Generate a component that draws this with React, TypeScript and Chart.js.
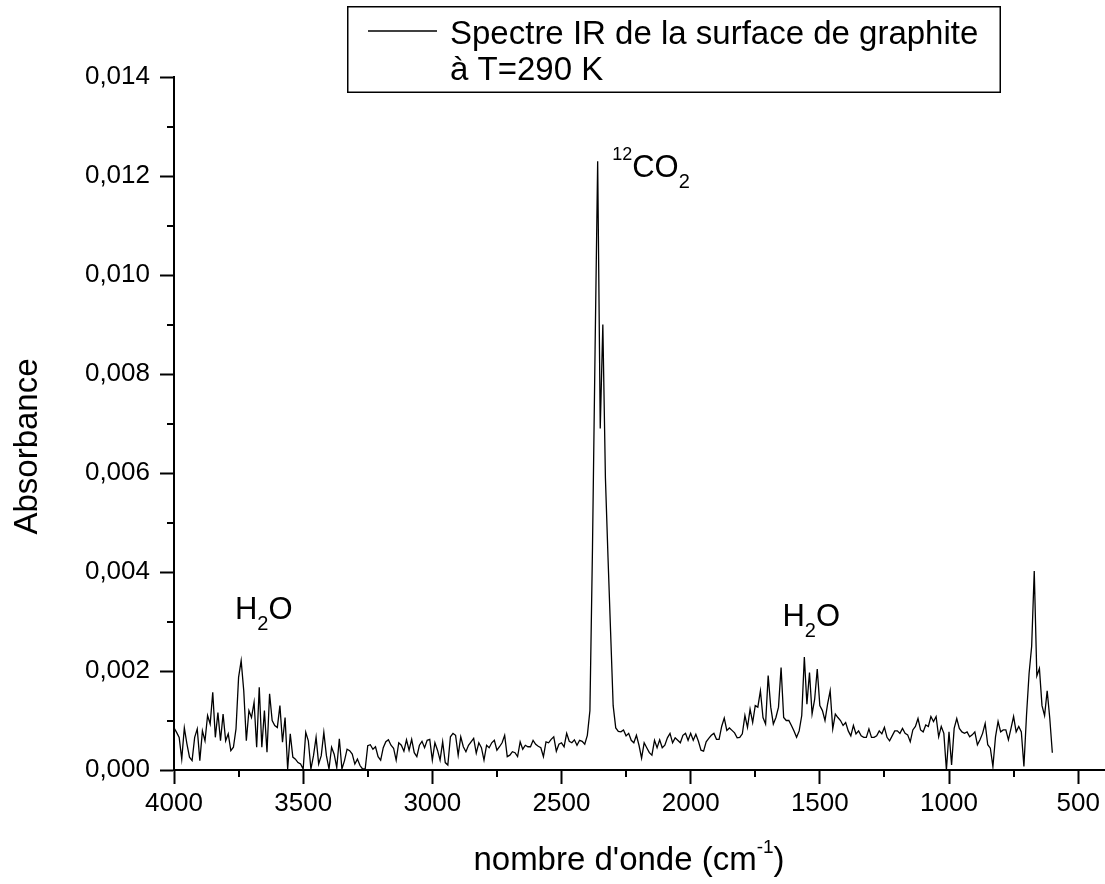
import React, { useEffect, useRef } from 'react';
import { Chart, registerables } from 'chart.js';

Chart.register(...registerables);

const FONT = "'Liberation Sans', Arial, sans-serif";

// Wavenumber sampling step (cm-1), each segment starts at its given wavenumber and goes down
const STEP = 10;

// Absorbance values, in units of 10^-3
const segA_start = 4000; // 4000 -> 3250
const segA = [
  0.85, 0.76, 0.66, 0.22, 0.85, 0.53, 0.26, 0.19, 0.66, 0.83,
  0.19, 0.79, 0.59, 1.10, 0.93, 1.57, 0.66, 1.16, 0.59, 1.13,
  0.59, 0.73, 0.39, 0.46, 0.83, 1.87, 2.21, 1.60, 0.59, 1.20,
  1.06, 1.37, 0.46, 1.67, 0.46, 1.20, 0.36, 1.54, 1.00, 0.90,
  0.86, 1.30, 0.56, 1.06, 0.02, 0.73, 0.26, 0.22, 0.15, 0.12,
  0.02, 0.76, 0.59, 0.02, 0.29, 0.66, 0.12, 0.29, 0.76, 0.29,
  0.02, 0.46, 0.32, 0.05, 0.63, 0.02, 0.19, 0.42, 0.39, 0.32,
  0.12, 0.22, 0.09, 0.02, 0.02, 0.49,
];

const segB_start = 3240; // 3240 -> 2400
const segB = [
  0.51, 0.42, 0.47, 0.27, 0.20, 0.45, 0.57, 0.61, 0.50, 0.44,
  0.20, 0.55, 0.50, 0.38, 0.61, 0.40, 0.62, 0.35, 0.27, 0.50,
  0.58, 0.45, 0.60, 0.62, 0.20, 0.55, 0.40, 0.20, 0.57, 0.15,
  0.10, 0.67, 0.74, 0.70, 0.30, 0.67, 0.47, 0.37, 0.50, 0.57,
  0.64, 0.34, 0.55, 0.45, 0.20, 0.50, 0.45, 0.55, 0.60, 0.40,
  0.47, 0.55, 0.70, 0.27, 0.30, 0.37, 0.35, 0.27, 0.57, 0.42,
  0.50, 0.47, 0.47, 0.60, 0.52, 0.48, 0.45, 0.27, 0.57, 0.55,
  0.62, 0.67, 0.38, 0.52, 0.55, 0.47, 0.74, 0.58, 0.55, 0.61,
  0.50, 0.60, 0.58, 0.52, 0.70,
];

const segC_start = 2390; // 12CO2 band, 2390 -> 2280
const segC = [1.2, 4.5, 8.5, 12.3, 6.9, 9.0, 5.9, 4.3, 2.8, 1.3, 0.85, 0.78];

const segD_start = 2270; // 2270 -> 1820
const segD = [
  0.77, 0.81, 0.69, 0.74, 0.60, 0.55, 0.70, 0.50, 0.24, 0.55,
  0.45, 0.35, 0.30, 0.60, 0.45, 0.61, 0.45, 0.50, 0.65, 0.74,
  0.55, 0.65, 0.60, 0.55, 0.70, 0.74, 0.60, 0.74, 0.60, 0.72,
  0.58, 0.40, 0.38, 0.57, 0.64, 0.70, 0.74, 0.62, 0.62, 0.88,
  1.05, 0.80, 0.85, 0.80, 0.75, 0.65,
];

const segE_start = 1810; // H2O bending, 1810 -> 1200
const segE = [
  0.66, 0.73, 1.10, 0.86, 1.23, 0.96, 1.30, 1.27, 1.60, 1.06,
  0.93, 1.91, 1.27, 0.93, 1.06, 1.27, 2.07, 1.06, 1.00, 1.00,
  0.90, 0.79, 0.66, 0.79, 1.10, 2.28, 1.33, 1.97, 1.13, 1.43,
  2.04, 1.30, 1.20, 1.00, 1.33, 1.60, 0.83, 1.13, 1.06, 1.00,
  0.90, 0.96, 0.79, 0.69, 0.90, 0.73, 0.79, 0.69, 0.66, 0.66,
  0.83, 0.66, 0.66, 0.69, 0.79, 0.73, 0.86, 0.66, 0.59, 0.69,
  0.79, 0.79,
];

const segF_start = 1190; // 1190 -> 600
const segF = [
  0.74, 0.84, 0.74, 0.71, 0.57, 0.81, 0.88, 1.04, 0.81, 0.77,
  0.91, 0.88, 1.08, 0.98, 1.08, 0.67, 0.88, 0.74, 0.00, 0.77,
  0.10, 0.84, 1.04, 0.84, 0.77, 0.74, 0.77, 0.67, 0.71, 0.77,
  0.51, 0.61, 0.74, 0.94, 0.51, 0.44, 0.07, 0.67, 0.98, 0.77,
  0.81, 0.81, 0.61, 0.84, 1.08, 0.77, 0.88, 0.77, 0.07, 1.10,
  1.95, 2.50, 4.02, 1.90, 2.05, 1.30, 1.10, 1.60, 1.05, 0.35,
];

const xTicks = [4000, 3500, 3000, 2500, 2000, 1500, 1000, 500];
const xMinorTicks = [3750, 3250, 2750, 2250, 1750, 1250, 750];
const yTicks = [0, 0.002, 0.004, 0.006, 0.008, 0.01, 0.012, 0.014];
const yMinorTicks = [0.001, 0.003, 0.005, 0.007, 0.009, 0.011, 0.013];

const legendLines = ['Spectre IR de la surface de graphite', 'à T=290 K'];

const segments: [number, number[]][] = [
  [segA_start, segA],
  [segB_start, segB],
  [segC_start, segC],
  [segD_start, segD],
  [segE_start, segE],
  [segF_start, segF],
];

const points = segments.flatMap(([start, vals]) =>
  vals.map((v, i) => ({ x: start - STEP * i, y: v / 1000 }))
);

type Part = { t: string; size: number; dy: number };

function drawParts(ctx: CanvasRenderingContext2D, parts: Part[], x: number, y: number, align: 'left' | 'center') {
  let total = 0;
  const widths = parts.map((p) => {
    ctx.font = `${p.size}px ${FONT}`;
    const w = ctx.measureText(p.t).width;
    total += w;
    return w;
  });
  let cx = align === 'center' ? x - total / 2 : x;
  ctx.textAlign = 'left';
  ctx.textBaseline = 'alphabetic';
  parts.forEach((p, i) => {
    ctx.font = `${p.size}px ${FONT}`;
    ctx.fillText(p.t, cx, y + p.dy);
    cx += widths[i];
  });
}

const overlay = {
  id: 'overlay',
  afterDraw(chart: any) {
    const ctx: CanvasRenderingContext2D = chart.ctx;
    const xs = chart.scales.x;
    const ys = chart.scales.y;
    const { left, bottom, right, top } = chart.chartArea;
    ctx.save();
    ctx.strokeStyle = '#000';
    ctx.fillStyle = '#000';
    ctx.lineWidth = 2;
    // minor ticks
    xMinorTicks.forEach((v) => {
      const px = Math.round(xs.getPixelForValue(v));
      ctx.beginPath();
      ctx.moveTo(px, bottom);
      ctx.lineTo(px, bottom + 7);
      ctx.stroke();
    });
    yMinorTicks.forEach((v) => {
      const py = Math.round(ys.getPixelForValue(v));
      ctx.beginPath();
      ctx.moveTo(left, py);
      ctx.lineTo(left - 7, py);
      ctx.stroke();
    });

    // axis titles
    const cxMid = (left + right) / 2;
    drawParts(
      ctx,
      [
        { t: "nombre d'onde (cm", size: 33, dy: 0 },
        { t: '-1', size: 19, dy: -17 },
        { t: ')', size: 33, dy: 0 },
      ],
      cxMid - 10,
      870,
      'center'
    );
    ctx.save();
    ctx.translate(37, (top + bottom) / 2 + 23);
    ctx.rotate(-Math.PI / 2);
    ctx.font = `33px ${FONT}`;
    ctx.textAlign = 'center';
    ctx.textBaseline = 'alphabetic';
    ctx.fillText('Absorbance', 0, 0);
    ctx.restore();

    // annotations anchored in data coordinates
    const h2oLeft = { x: xs.getPixelForValue(3764), y: ys.getPixelForValue(0.00305) };
    drawParts(
      ctx,
      [
        { t: 'H', size: 31, dy: 0 },
        { t: '2', size: 20, dy: 11 },
        { t: 'O', size: 31, dy: 0 },
      ],
      h2oLeft.x,
      h2oLeft.y,
      'left'
    );
    const h2oRight = { x: xs.getPixelForValue(1645), y: ys.getPixelForValue(0.00291) };
    drawParts(
      ctx,
      [
        { t: 'H', size: 31, dy: 0 },
        { t: '2', size: 20, dy: 11 },
        { t: 'O', size: 31, dy: 0 },
      ],
      h2oRight.x,
      h2oRight.y,
      'left'
    );
    const co2 = { x: xs.getPixelForValue(2304), y: ys.getPixelForValue(0.01198) };
    drawParts(
      ctx,
      [
        { t: '12', size: 18, dy: -17 },
        { t: 'CO', size: 31, dy: 0 },
        { t: '2', size: 20, dy: 11 },
      ],
      co2.x,
      co2.y,
      'left'
    );

    // legend box
    ctx.fillStyle = '#fff';
    ctx.fillRect(348, 7, 652, 85);
    ctx.lineWidth = 1.5;
    ctx.strokeStyle = '#000';
    ctx.strokeRect(347.75, 6.75, 652.5, 85.5);
    ctx.lineWidth = 1.3;
    ctx.beginPath();
    ctx.moveTo(368, 31);
    ctx.lineTo(437, 31);
    ctx.stroke();
    ctx.fillStyle = '#000';
    ctx.font = `33px ${FONT}`;
    ctx.textAlign = 'left';
    ctx.textBaseline = 'alphabetic';
    ctx.fillText(legendLines[0], 450, 44);
    ctx.fillText(legendLines[1], 450, 80);
    ctx.restore();
  },
};

export default function App() {
  const ref = useRef<HTMLCanvasElement>(null);
  useEffect(() => {
    if (!ref.current) return;
    const chart = new Chart(ref.current, {
      type: 'line',
      data: {
        datasets: [
          {
            label: legendLines.join(' '),
            data: points,
            borderColor: '#000',
            borderWidth: 1.3,
            pointRadius: 0,
            tension: 0,
            fill: false,
          },
        ],
      },
      options: {
        animation: false,
        responsive: false,
        devicePixelRatio: 1,
        layout: { padding: { left: 0, right: 1, top: 77, bottom: 0 } },
        plugins: {
          legend: { display: false },
          tooltip: { enabled: false },
          title: { display: false },
        },
        scales: {
          x: {
            type: 'linear',
            reverse: true,
            min: 400,
            max: 4000,
            afterBuildTicks: (s: any) => {
              s.ticks = xTicks.map((v) => ({ value: v }));
            },
            afterFit: (s: any) => {
              s.height = 114;
              s.paddingLeft = 0;
              s.paddingRight = 0;
            },
            ticks: {
              autoSkip: false,
              maxRotation: 0,
              minRotation: 0,
              padding: 4,
              color: '#000',
              font: { family: FONT, size: 26 },
              callback: (v: any) => String(v),
            },
            grid: {
              display: true,
              drawOnChartArea: false,
              drawTicks: true,
              tickLength: 14,
              tickWidth: 2,
              tickColor: '#000',
            },
            border: { display: true, color: '#000', width: 2 },
          },
          y: {
            type: 'linear',
            min: 0,
            max: 0.014,
            afterBuildTicks: (s: any) => {
              s.ticks = yTicks.map((v) => ({ value: v }));
            },
            afterFit: (s: any) => {
              s.width = 174;
              s.paddingTop = 0;
              s.paddingBottom = 0;
            },
            ticks: {
              autoSkip: false,
              padding: 10,
              color: '#000',
              font: { family: FONT, size: 26 },
              callback: (v: any) => Number(v).toFixed(3).replace('.', ','),
            },
            grid: {
              display: true,
              drawOnChartArea: false,
              drawTicks: true,
              tickLength: 14,
              tickWidth: 2,
              tickColor: '#000',
            },
            border: { display: true, color: '#000', width: 2 },
          },
        },
      },
      plugins: [overlay],
    });
    return () => chart.destroy();
  }, []);
  return (
    <div style={{ position: 'absolute', left: 0, top: 0, width: 1105, height: 884, background: '#fff' }}>
      <canvas ref={ref} width={1105} height={884} style={{ display: 'block', width: 1105, height: 884 }} />
    </div>
  );
}
